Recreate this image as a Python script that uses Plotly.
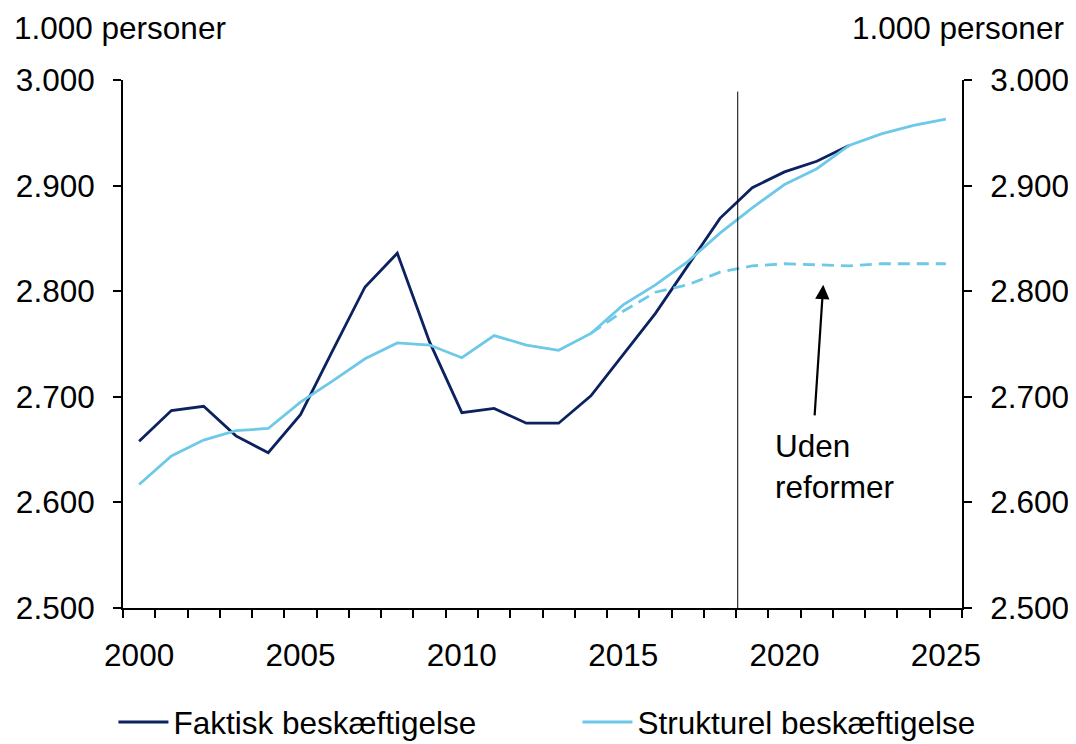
import plotly.graph_objects as go

# data (1.000 personer)
years = list(range(2000, 2026))

faktisk = [2658, 2687, 2691, 2663, 2647, 2683, 2744, 2804, 2836, 2752,
           2685, 2689, 2675, 2675, 2701, 2740, 2779, 2824, 2869, 2898,
           2913, 2923, 2938]

strukturel = [2617, 2644, 2659, 2668, 2670, 2695, 2715, 2736, 2751, 2749,
              2737, 2758, 2749, 2744, 2760, 2787, 2806, 2828, 2855, 2879,
              2901, 2916, 2938, 2949, 2957, 2963]

uden_years = list(range(2014, 2026))
uden_reformer = [2760, 2781, 2799, 2806, 2818, 2824, 2826, 2825, 2824, 2826,
                 2826, 2826]

label_years = [2000, 2005, 2010, 2015, 2020, 2025]
y_ticks = [2500, 2600, 2700, 2800, 2900, 3000]

DARK = "#0b2160"
LIGHT = "#6ec8e8"
FONT = "Liberation Sans, Arial, sans-serif"
FS = 31.5

fig = go.Figure()

fig.add_trace(go.Scatter(x=years[:len(faktisk)], y=faktisk, mode="lines",
                         name="Faktisk beskæftigelse",
                         line=dict(color=DARK, width=2.8)))
fig.add_trace(go.Scatter(x=years, y=strukturel, mode="lines",
                         name="Strukturel beskæftigelse",
                         line=dict(color=LIGHT, width=2.8)))
fig.add_trace(go.Scatter(x=uden_years, y=uden_reformer, mode="lines",
                         showlegend=False,
                         line=dict(color=LIGHT, width=2.8, dash="12px,7px")))
# dummy trace so the right axis is drawn
fig.add_trace(go.Scatter(x=[years[0]], y=[y_ticks[0]], yaxis="y2", mode="lines",
                         showlegend=False, hoverinfo="skip",
                         line=dict(width=0)))

# forecast divider
fig.add_shape(type="line", x0=2018.55, x1=2018.55, y0=2500, y1=2989,
              xref="x", yref="y", line=dict(color="black", width=1))

# arrow + label
fig.add_annotation(x=2021.2, y=2806, ax=2020.93, ay=2681, xref="x", yref="y",
                   axref="x", ayref="y", text="", showarrow=True,
                   arrowhead=2, arrowsize=1.3, arrowwidth=2.2,
                   arrowcolor="black")
fig.add_annotation(x=2019.63, y=2672, xref="x", yref="y", xanchor="left",
                   yanchor="top", align="left", showarrow=False,
                   text="Uden<br>reformer",
                   font=dict(family=FONT, size=FS, color="black"))

fig.add_annotation(x=0, y=1, xref="paper", yref="paper", xshift=-111,
                   yshift=52, xanchor="left", yanchor="middle",
                   showarrow=False, text="1.000 personer",
                   font=dict(family=FONT, size=FS, color="black"))
fig.add_annotation(x=1, y=1, xref="paper", yref="paper", xshift=104,
                   yshift=52, xanchor="right", yanchor="middle",
                   showarrow=False, text="1.000 personer",
                   font=dict(family=FONT, size=FS, color="black"))

axis_common = dict(showline=True, linecolor="black", linewidth=2,
                   ticks="outside", ticklen=8, tickwidth=2, tickcolor="black",
                   showgrid=False, zeroline=False, automargin=False,
                   tickfont=dict(family=FONT, size=FS, color="black"))

fig.update_layout(
    width=1068, height=736,
    margin=dict(l=115, r=114, t=72, b=136, autoexpand=False),
    paper_bgcolor="white", plot_bgcolor="white",
    separators=",.",
    font=dict(family=FONT, size=FS, color="black"),
    xaxis=dict(range=[1999.5, 2025.5], tickvals=label_years,
               showline=True, linecolor="black", linewidth=2,
               ticks="", showgrid=False, zeroline=False, automargin=False,
               ticklabelstandoff=18,
               tickfont=dict(family=FONT, size=FS, color="black"),
               minor=dict(tickvals=[y - 0.5 for y in years] + [2025.5],
                          ticks="outside", ticklen=8, tickwidth=2,
                          tickcolor="black", showgrid=False)),
    yaxis=dict(range=[2500, 3000], tickvals=y_ticks, tickformat=",d",
               ticklabelstandoff=12, **axis_common),
    yaxis2=dict(range=[2500, 3000], tickvals=y_ticks, tickformat=",d",
                overlaying="y", side="right", ticklabelstandoff=12,
                **axis_common),
    legend=dict(orientation="h", x=-0.0114, y=-0.216, xanchor="left",
                yanchor="middle", itemwidth=50, entrywidth=399,
                entrywidthmode="pixels",
                font=dict(family=FONT, size=FS, color="black"),
                bgcolor="rgba(0,0,0,0)"),
    showlegend=True,
)

fig.write_html("out.html")
